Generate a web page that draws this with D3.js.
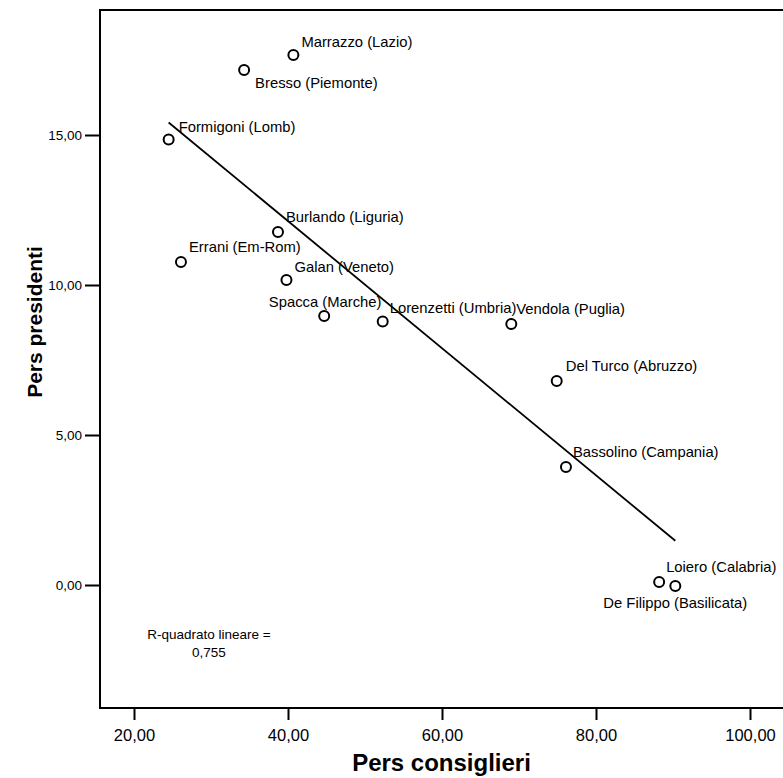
<!DOCTYPE html>
<html>
<head>
<meta charset="utf-8">
<script src="https://cdn.jsdelivr.net/npm/d3@7"></script>
<style>
  body { margin: 0; background: #fff; }
  svg { display: block; font-family: "Liberation Sans", Arial, sans-serif; }
</style>
</head>
<body>
<svg id="chart"></svg>
<script>
// data
const names = [
    'Marrazzo (Lazio)', 'Bresso (Piemonte)', 'Formigoni (Lomb)', 'Burlando (Liguria)',
    'Errani (Em-Rom)', 'Galan (Veneto)', 'Spacca (Marche)', 'Lorenzetti (Umbria)',
    'Vendola (Puglia)', 'Del Turco (Abruzzo)', 'Bassolino (Campania)',
    'Loiero (Calabria)', 'De Filippo (Basilicata)'
];
const consiglieri = [40.7, 34.3, 24.5, 38.7, 26.1, 39.8, 44.7, 52.3, 69.0, 74.9, 76.1, 88.2, 90.3];
const presidenti  = [17.67, 17.17, 14.85, 11.77, 10.77, 10.17, 8.97, 8.78, 8.70, 6.80, 3.93, 0.10, -0.03];
const xticks = [20, 40, 60, 80, 100];
const yticks = [0, 5, 10, 15];
const r2text = ['R-quadrato lineare =', '0,755'];

// label placement per point: [dx, dy, anchor]
const labelPos = {
    'Marrazzo (Lazio)': [8, -8, 'start'],
    'Bresso (Piemonte)': [11, 18, 'start'],
    'Formigoni (Lomb)': [10, -8, 'start'],
    'Burlando (Liguria)': [8, -10, 'start'],
    'Errani (Em-Rom)': [8, -10, 'start'],
    'Galan (Veneto)': [8, -8, 'start'],
    'Spacca (Marche)': [1, -9, 'middle'],
    'Lorenzetti (Umbria)': [7, -9, 'start'],
    'Vendola (Puglia)': [5, -10, 'start'],
    'Del Turco (Abruzzo)': [9, -10, 'start'],
    'Bassolino (Campania)': [7, -10, 'start'],
    'Loiero (Calabria)': [7, -10, 'start'],
    'De Filippo (Basilicata)': [0, 22, 'middle']
};

const data = names.map((n, i) => ({ name: n, x: consiglieri[i], y: presidenti[i] }));

const width = 783, height = 778;
const frame = { left: 100, top: 10, bottom: 708, right: 783 };

const svg = d3.select('#chart')
    .attr('width', width)
    .attr('height', height);

const xscale = d3.scaleLinear().domain([20, 100]).range([134, 750]);
const yscale = d3.scaleLinear().domain([0, 15]).range([585, 135]);
const fmt = d => d3.format('.2f')(d).replace('.', ',');

// frame (left, top, bottom)
svg.append('path')
    .attr('d', `M${frame.right},${frame.top}H${frame.left}V${frame.bottom}H${frame.right}`)
    .attr('fill', 'none')
    .attr('stroke', '#000')
    .attr('stroke-width', 2);

// axes
const xaxis_group = svg.append('g')
    .attr('transform', `translate(0, ${frame.bottom})`)
    .call(d3.axisBottom(xscale).tickValues(xticks).tickSize(12).tickPadding(9).tickFormat(fmt));
xaxis_group.select('.domain').remove();
xaxis_group.selectAll('line').attr('stroke-width', 2);
xaxis_group.selectAll('text').attr('font-size', 16.5).attr('fill', '#000');

const yaxis_group = svg.append('g')
    .attr('transform', `translate(${frame.left}, 0)`)
    .call(d3.axisLeft(yscale).tickValues(yticks).tickSize(15).tickPadding(3).tickFormat(fmt));
yaxis_group.select('.domain').remove();
yaxis_group.selectAll('line').attr('stroke-width', 2);
yaxis_group.selectAll('text').attr('font-size', 13.5).attr('fill', '#000');

// axis titles
svg.append('text')
    .attr('x', (frame.left + frame.right) / 2)
    .attr('y', 771)
    .attr('text-anchor', 'middle')
    .attr('font-size', 24)
    .attr('font-weight', 'bold')
    .text('Pers consiglieri');

svg.append('text')
    .attr('transform', 'translate(42, 322) rotate(-90)')
    .attr('text-anchor', 'middle')
    .attr('font-size', 21)
    .attr('font-weight', 'bold')
    .text('Pers presidenti');

// least squares fit line
const mx = d3.mean(data, d => d.x), my = d3.mean(data, d => d.y);
const slope = d3.sum(data, d => (d.x - mx) * (d.y - my)) / d3.sum(data, d => (d.x - mx) ** 2);
const icpt = my - slope * mx;
const [x0, x1] = d3.extent(data, d => d.x);
svg.append('line')
    .attr('x1', xscale(x0)).attr('y1', yscale(icpt + slope * x0))
    .attr('x2', xscale(x1)).attr('y2', yscale(icpt + slope * x1))
    .attr('stroke', '#000')
    .attr('stroke-width', 1.8);

// points
svg.selectAll('circle')
    .data(data)
    .join('circle')
    .attr('cx', d => xscale(d.x))
    .attr('cy', d => yscale(d.y))
    .attr('r', 5)
    .attr('fill', '#fff')
    .attr('stroke', '#000')
    .attr('stroke-width', 2);

// point labels
svg.selectAll('text.lbl')
    .data(data)
    .join('text')
    .attr('class', 'lbl')
    .attr('x', d => xscale(d.x) + labelPos[d.name][0])
    .attr('y', d => yscale(d.y) + labelPos[d.name][1])
    .attr('text-anchor', d => labelPos[d.name][2])
    .attr('font-size', 14.8)
    .text(d => d.name);

// r-squared note
svg.selectAll('text.r2')
    .data(r2text)
    .join('text')
    .attr('class', 'r2')
    .attr('x', 209)
    .attr('y', (d, i) => 639 + i * 18)
    .attr('text-anchor', 'middle')
    .attr('font-size', 13.5)
    .text(d => d);
</script>
</body>
</html>
